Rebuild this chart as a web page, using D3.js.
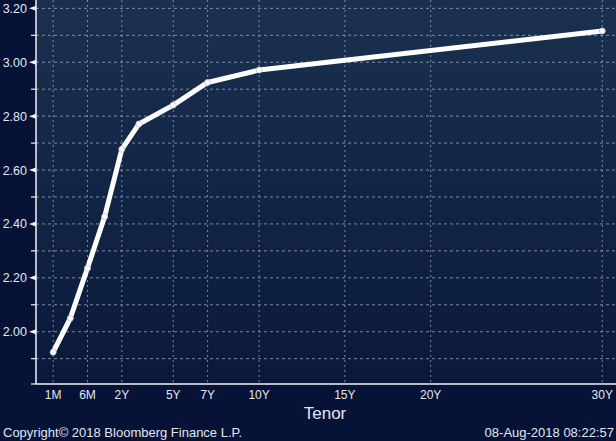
<!DOCTYPE html>
<html>
<head>
<meta charset="utf-8">
<script src="https://cdn.jsdelivr.net/npm/d3@7"></script>
<style>
  body { margin: 0; background: #061236; }
  svg { display: block; }
  text { font-family: "Liberation Sans", Arial, sans-serif; fill: #e2e7f0; }
</style>
</head>
<body>
<script>
// tenors (in years) and yields
var tenors = [1/12, 0.25, 0.5, 1, 2, 3, 5, 7, 10, 30];
var yields = [1.924, 2.050, 2.236, 2.427, 2.677, 2.771, 2.841, 2.925, 2.971, 3.116];

// labelled tenor ticks
var tickTenors = [1/12, 0.5, 2, 5, 7, 10, 15, 20, 30];
var tickLabels = ["1M", "6M", "2Y", "5Y", "7Y", "10Y", "15Y", "20Y", "30Y"];

// y ticks
var majorTicks = [2.00, 2.20, 2.40, 2.60, 2.80, 3.00, 3.20];
var minorTicks = [1.90, 2.10, 2.30, 2.50, 2.70, 2.90, 3.10];

var data = tenors.map(function(t, i) { return {tenor: t, value: yields[i]}; });

var W = 616, H = 441;
var margin = {top: 0, right: 0, bottom: 57, left: 36},
    width = W - margin.left - margin.right,
    height = H - margin.top - margin.bottom;

// short end is spaced evenly (1M, 3M, 6M, 1Y), then linear in years
var unit = width / 33.8;
var x = d3.scaleLinear()
    .domain([0, 1/12, 0.25, 0.5, 1, 30.8])
    .range([0, 1, 2, 3, 4, 33.8].map(function(u) { return u * unit; }));
var y = d3.scaleLinear()
    .domain([1.806, 3.231])
    .range([height, 0]);

var svg = d3.select("body").append("svg")
    .attr("width", W)
    .attr("height", H);

var defs = svg.append("defs");
var grad = defs.append("linearGradient")
    .attr("id", "bg")
    .attr("x1", 0).attr("y1", 0).attr("x2", 0).attr("y2", 1);
grad.append("stop").attr("offset", "0%").attr("stop-color", "#1b3050");
grad.append("stop").attr("offset", "100%").attr("stop-color", "#0a193b");

var g = svg.append("g")
    .attr("transform", "translate(" + margin.left + "," + margin.top + ")");

g.append("rect")
    .attr("width", width)
    .attr("height", height)
    .attr("fill", "url(#bg)");

// horizontal grid
g.selectAll(".hgrid")
    .data(majorTicks.concat(minorTicks))
  .enter().append("line")
    .attr("x1", 0).attr("x2", width)
    .attr("y1", function(d) { return y(d); })
    .attr("y2", function(d) { return y(d); })
    .attr("stroke", "#a9b6c8")
    .attr("stroke-opacity", 0.7)
    .attr("stroke-dasharray", "3,3");

// vertical grid
g.selectAll(".vgrid")
    .data(tickTenors)
  .enter().append("line")
    .attr("x1", function(d) { return x(d); })
    .attr("x2", function(d) { return x(d); })
    .attr("y1", 0).attr("y2", height)
    .attr("stroke", "#a9b6c8")
    .attr("stroke-opacity", 0.7)
    .attr("stroke-dasharray", "2,3");

// axes lines
g.append("line")
    .attr("x1", 0).attr("x2", 0).attr("y1", 0).attr("y2", height)
    .attr("stroke", "#f0f3f8").attr("stroke-width", 1.5);
g.append("line")
    .attr("x1", 0).attr("x2", width).attr("y1", height).attr("y2", height)
    .attr("stroke", "#f0f3f8").attr("stroke-width", 1.5);

// y ticks: arrow heads on major, short lines on minor
g.selectAll(".ymajor")
    .data(majorTicks)
  .enter().append("path")
    .attr("d", function(d) {
      var yy = y(d);
      return "M0," + (yy - 2.5) + "L-7," + yy + "L0," + (yy + 2.5) + "Z";
    })
    .attr("fill", "#f0f3f8");

g.selectAll(".yminor")
    .data(minorTicks.concat([y.domain()[0]]))
  .enter().append("line")
    .attr("x1", -5).attr("x2", 0)
    .attr("y1", function(d) { return y(d); })
    .attr("y2", function(d) { return y(d); })
    .attr("stroke", "#f0f3f8").attr("stroke-width", 1.2);

g.selectAll(".ylabel")
    .data(majorTicks)
  .enter().append("text")
    .attr("x", -9)
    .attr("y", function(d) { return y(d); })
    .attr("dy", "0.36em")
    .attr("text-anchor", "end")
    .style("font-size", "12.5px")
    .text(function(d) { return d.toFixed(2); });

// x labels
g.selectAll(".xlabel")
    .data(tickTenors)
  .enter().append("text")
    .attr("x", function(d) { return x(d); })
    .attr("y", height + 14.5)
    .attr("text-anchor", "middle")
    .style("font-size", "12px")
    .text(function(d, i) { return tickLabels[i]; });

g.append("text")
    .attr("x", 289)
    .attr("y", height + 35)
    .attr("text-anchor", "middle")
    .style("font-size", "17px")
    .text("Tenor");

// curve
var line = d3.line()
    .x(function(d) { return x(d.tenor); })
    .y(function(d) { return y(d.value); });

g.append("path")
    .datum(data)
    .attr("d", line)
    .attr("fill", "none")
    .attr("stroke", "#ffffff")
    .attr("stroke-width", 5)
    .attr("stroke-linejoin", "round")
    .attr("stroke-linecap", "round");

g.selectAll(".dot")
    .data(data)
  .enter().append("circle")
    .attr("cx", function(d) { return x(d.tenor); })
    .attr("cy", function(d) { return y(d.value); })
    .attr("r", 3)
    .attr("fill", "#ffffff")
    .attr("stroke", "#b8c2d0")
    .attr("stroke-width", 0.8);

// footer
svg.append("text")
    .attr("x", 3)
    .attr("y", 437)
    .style("font-size", "13px")
    .text("Copyright\u00a9 2018 Bloomberg Finance L.P.");

svg.append("text")
    .attr("x", 614)
    .attr("y", 437)
    .attr("text-anchor", "end")
    .style("font-size", "13px")
    .text("08-Aug-2018 08:22:57");
</script>
</body>
</html>
